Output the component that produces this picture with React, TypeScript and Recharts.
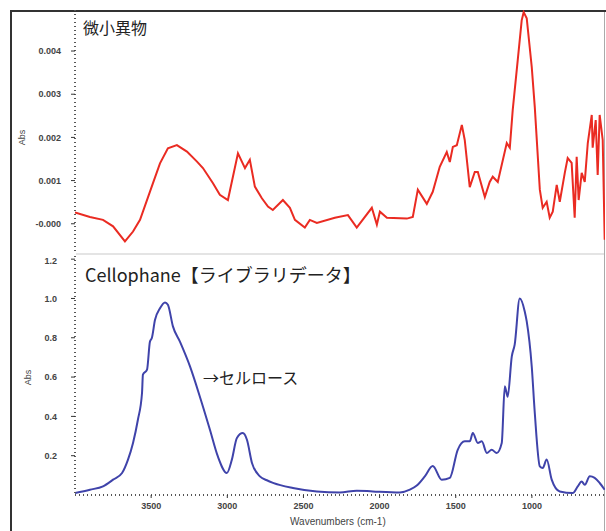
import { LineChart, Line, XAxis, YAxis } from 'recharts';

// 微小異物 (sample) – wavenumber / absorbance in units of 0.001
const sampleWn = [4000, 3902, 3816, 3750, 3672, 3619, 3573, 3488, 3442, 3390, 3331, 3265, 3199, 3160, 3094, 3049, 2996, 2930, 2884, 2852, 2819, 2773, 2733, 2701, 2635, 2589, 2556, 2491, 2458, 2412, 2294, 2208, 2150, 2051, 2018, 1998, 1952, 1821, 1782, 1749, 1690, 1651, 1605, 1559, 1539, 1519, 1493, 1460, 1441, 1408, 1375, 1355, 1309, 1277, 1257, 1224, 1165, 1145, 1126, 1093, 1067, 1054, 1034, 1001, 981, 948, 929, 903, 883, 863, 837, 817, 784, 765, 739, 719, 706, 693, 673, 653, 633, 607, 601, 581, 568, 555, 535, 522];
const sampleAbsMilli = [0.26, 0.155, 0.09, -0.06, -0.41, -0.18, 0.09, 0.94, 1.4, 1.75, 1.82, 1.67, 1.44, 1.29, 0.94, 0.67, 0.55, 1.63, 1.29, 1.48, 0.86, 0.59, 0.4, 0.32, 0.55, 0.37, 0.09, -0.09, 0.09, 0.02, 0.14, 0.2, -0.09, 0.37, -0.02, 0.28, 0.14, 0.12, 0.16, 0.79, 0.46, 0.74, 1.32, 1.66, 1.43, 1.78, 1.82, 2.29, 1.94, 0.85, 1.2, 1.2, 0.62, 0.97, 1.09, 0.97, 1.87, 1.76, 2.63, 3.79, 4.71, 4.9, 4.76, 3.63, 2.7, 0.79, 0.37, 0.51, 0.14, 0.28, 0.9, 0.51, 1.18, 1.52, 1.41, 0.14, 1.55, 0.55, 1.18, 0.97, 1.87, 2.52, 1.76, 2.4, 1.13, 2.52, 1.94, -0.37];

// Cellophane library spectrum
const libWn = [4000, 3902, 3816, 3750, 3691, 3652, 3619, 3587, 3560, 3554, 3527, 3508, 3495, 3475, 3442, 3409, 3390, 3357, 3311, 3245, 3180, 3114, 3062, 3003, 2970, 2937, 2898, 2871, 2838, 2786, 2740, 2700, 2569, 2412, 2261, 2150, 2044, 1867, 1801, 1756, 1703, 1651, 1592, 1539, 1487, 1441, 1408, 1388, 1355, 1329, 1296, 1264, 1231, 1198, 1178, 1159, 1132, 1113, 1080, 1047, 1034, 1001, 981, 948, 929, 903, 870, 817, 732, 699, 673, 653, 620, 588, 555, 522];
const libAbs = [0.01, 0.027, 0.044, 0.078, 0.112, 0.18, 0.265, 0.383, 0.519, 0.612, 0.638, 0.78, 0.8, 0.89, 0.95, 0.98, 0.968, 0.858, 0.78, 0.654, 0.5, 0.332, 0.196, 0.112, 0.18, 0.29, 0.315, 0.281, 0.163, 0.095, 0.075, 0.062, 0.036, 0.018, 0.013, 0.022, 0.018, 0.013, 0.027, 0.048, 0.095, 0.148, 0.078, 0.087, 0.23, 0.273, 0.273, 0.315, 0.265, 0.273, 0.214, 0.23, 0.214, 0.265, 0.553, 0.5, 0.705, 0.765, 1.0, 0.934, 0.883, 0.654, 0.417, 0.146, 0.137, 0.18, 0.078, 0.018, 0.01, 0.044, 0.069, 0.052, 0.095, 0.087, 0.061, 0.027];

const xTicks = [3500, 3000, 2500, 2000, 1500, 1000];
const topTicks = [0, 0.001, 0.002, 0.003, 0.004];
const bottomTicks = [0.2, 0.4, 0.6, 0.8, 1.0, 1.2];

const sampleData = sampleWn.map((wn, i) => ({ wn, abs: sampleAbsMilli[i] / 1000 }));
const libData = libWn.map((wn, i) => ({ wn, abs: libAbs[i] }));

const tickStyle = { fill: '#444', fontSize: 9, fontFamily: 'Liberation Sans, Arial, sans-serif', fontWeight: 'bold' as const };
const axisLine = { stroke: '#555', strokeDasharray: '1 3', strokeWidth: 2 };

const label = (extra: React.CSSProperties): React.CSSProperties => ({
  position: 'absolute',
  fontFamily: '"Noto Sans CJK JP", "Noto Sans", sans-serif',
  color: '#222',
  whiteSpace: 'nowrap',
  lineHeight: 1,
  ...extra,
});

export default function App() {
  return (
    <div style={{ position: 'absolute', left: 0, top: 0, width: 606, height: 531, background: '#fff', overflow: 'hidden' }}>
      {/* frame */}
      <div style={{ position: 'absolute', left: 10, top: 10, width: 596, height: 2, background: '#333' }} />
      <div style={{ position: 'absolute', left: 10, top: 10, width: 2, height: 521, background: '#333' }} />
      <div style={{ position: 'absolute', left: 604, top: 12, width: 1, height: 519, background: '#aaa' }} />
      <div style={{ position: 'absolute', left: 76, top: 253, width: 528, height: 2, background: '#e4e4e4' }} />

      <div style={{ position: 'absolute', left: 0, top: 0 }}>
        <LineChart width={606} height={254} data={sampleData} margin={{ top: 10, right: 1, bottom: 0, left: 0 }}>
          <XAxis dataKey="wn" type="number" domain={[520, 4000]} reversed hide allowDataOverflow />
          <YAxis
            width={75}
            domain={[-0.0007, 0.00495]}
            ticks={topTicks}
            allowDataOverflow
            tick={tickStyle}
            tickSize={4}
            tickMargin={10}
            axisLine={axisLine}
            tickLine={{ stroke: '#333' }}
            tickFormatter={(v: number) => (v === 0 ? '-0.000' : v.toFixed(3))}
          />
          <Line dataKey="abs" stroke="#ea2b22" strokeWidth={2} dot={false} isAnimationActive={false} />
        </LineChart>
      </div>

      <div style={{ position: 'absolute', left: 0, top: 256 }}>
        <LineChart width={606} height={275} data={libData} margin={{ top: 0, right: 1, bottom: 0, left: 0 }}>
          <XAxis
            dataKey="wn"
            type="number"
            domain={[520, 4000]}
            reversed
            allowDataOverflow
            height={36}
            ticks={xTicks}
            tick={tickStyle}
            tickSize={3}
            tickMargin={5}
            axisLine={axisLine}
            tickLine={{ stroke: '#333' }}
          />
          <YAxis
            width={75}
            domain={[0, 1.216]}
            ticks={bottomTicks}
            allowDataOverflow
            tick={tickStyle}
            tickSize={4}
            tickMargin={14}
            axisLine={axisLine}
            tickLine={{ stroke: '#333' }}
            tickFormatter={(v: number) => v.toFixed(1)}
          />
          <Line type="monotone" dataKey="abs" stroke="#3f43aa" strokeWidth={2} dot={false} isAnimationActive={false} />
        </LineChart>
      </div>

      {/* texts */}
      <div style={label({ left: 83, top: 19, fontSize: 16 })}>微小異物</div>
      <div style={label({ left: 85, top: 265, fontSize: 18 })}>Cellophane【ライブラリデータ】</div>
      <div style={label({ left: 203, top: 369, fontSize: 16 })}>→セルロース</div>
      <div style={label({ left: 15, top: 133, fontSize: 9, fontFamily: 'Liberation Sans, Arial, sans-serif', color: '#444', transform: 'rotate(-90deg)' })}>Abs</div>
      <div style={label({ left: 21, top: 373, fontSize: 9, fontFamily: 'Liberation Sans, Arial, sans-serif', color: '#444', transform: 'rotate(-90deg)' })}>Abs</div>
      <div style={label({ left: 290, top: 517, fontSize: 10, fontFamily: 'Liberation Sans, Arial, sans-serif', color: '#444' })}>Wavenumbers (cm-1)</div>
    </div>
  );
}
